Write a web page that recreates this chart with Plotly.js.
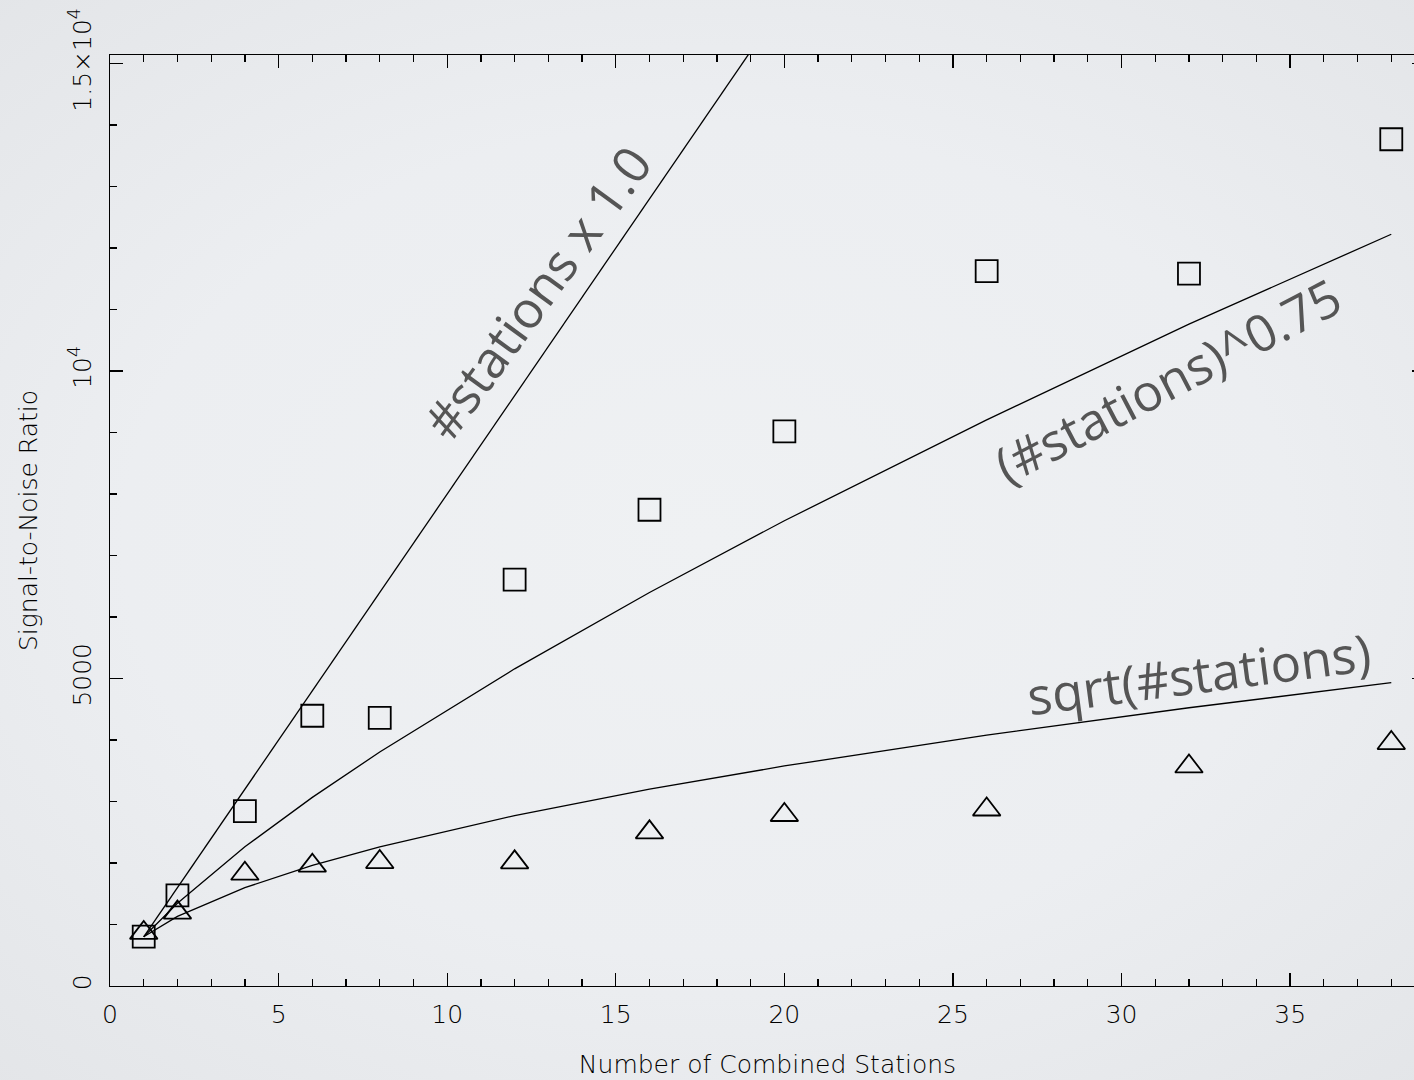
<!DOCTYPE html>
<html>
<head>
<meta charset="utf-8">
<script src="https://cdn.plot.ly/plotly-3.0.1.min.js"></script>
<style>
  html, body { margin: 0; padding: 0; overflow: hidden; }
  body {
    width: 1414px; height: 1080px;
    background: radial-gradient(ellipse 75% 70% at 50% 50%, #eff1f3 0%, #eceef1 55%, #e3e5e8 100%);
  }
  #chart { width: 1440px; height: 1080px; }
</style>
</head>
<body>
<div id="chart"></div>
<script>
// Number of stations combined in each test
const stations = [1, 2, 4, 6, 8, 12, 16, 20, 26, 32, 38];

// Measured signal-to-noise ratios
const snrSquares   = [802, 1474, 2845, 4395, 4360, 6610, 7745, 9020, 11625, 11585, 13770];
const snrTriangles = [864, 1194, 1826, 1957, 2016, 2011, 2499, 2781, 2870, 3570, 3951];

// Reference scaling curves (single-station SNR of about 800)
const refLinear = [800, 1600, 3200, 4800, 6400, 9600, 12800, 16000, 20800, 25600, 30400];
const refPow075 = [800, 1345, 2263, 3067, 3805, 5158, 6400, 7566, 9207, 10764, 12225];
const refSqrt   = [800, 1131, 1600, 1960, 2263, 2771, 3200, 3578, 4079, 4525, 4932];

// Y axis tick labels
const yTickVals = [0, 5000, 10000, 15000];
const yTickText = ['0', '5000', '10<sup>4</sup>', '1.5×10<sup>4</sup>'];

// Curve labels
const curveLabels = ['#stations x 1.0', '(#stations)^0.75', 'sqrt(#stations)'];

const lineStyle = { color: '#000', width: 1.3 };

const traces = [
  { x: stations, y: refLinear, mode: 'lines', line: lineStyle, hoverinfo: 'skip' },
  { x: stations, y: refPow075, mode: 'lines', line: lineStyle, hoverinfo: 'skip' },
  { x: stations, y: refSqrt,   mode: 'lines', line: lineStyle, hoverinfo: 'skip' },
  {
    x: stations, y: snrSquares, mode: 'markers',
    marker: { symbol: 'square-open', size: 22, color: '#000', line: { width: 1.8, color: '#000' } }
  },
  {
    x: stations, y: snrTriangles, mode: 'markers',
    marker: { symbol: 'triangle-up-open', size: 24, color: '#000', line: { width: 1.8, color: '#000' } }
  }
];

const tickFont = { family: 'DejaVu Sans', size: 25, color: '#000', weight: 200 };
const labelFont = { family: 'Open Sans', size: 51, color: '#555555' };

const layout = {
  width: 1440,
  height: 1080,
  margin: { l: 110, r: 14.5, t: 55, b: 94.4 },
  paper_bgcolor: 'rgba(0,0,0,0)',
  plot_bgcolor: 'rgba(0,0,0,0)',
  showlegend: false,
  xaxis: {
    range: [0, 39],
    tick0: 0, dtick: 5,
    ticks: 'inside', ticklen: 13, tickwidth: 1.3, tickcolor: '#000',
    minor: { dtick: 1, ticks: 'inside', ticklen: 7, tickwidth: 1.3, tickcolor: '#000' },
    showline: true, linecolor: '#000', linewidth: 1.3, mirror: 'ticks',
    showgrid: false, zeroline: false,
    tickfont: tickFont,
    ticklabelstandoff: 6,
    title: { text: 'Number of Combined Stations', font: tickFont, standoff: 27 }
  },
  yaxis: {
    range: [0, 15140],
    tickmode: 'array', tickvals: yTickVals, ticktext: yTickText,
    tickangle: -90,
    ticks: 'inside', ticklen: 13, tickwidth: 1.3, tickcolor: '#000',
    minor: { dtick: 1000, tick0: 0, ticks: 'inside', ticklen: 7, tickwidth: 1.3, tickcolor: '#000' },
    showline: true, linecolor: '#000', linewidth: 1.3, mirror: 'ticks',
    showgrid: false, zeroline: false,
    tickfont: tickFont,
    ticklabelstandoff: 8,
    title: { text: 'Signal-to-Noise Ratio', font: tickFont, standoff: 19 }
  },
  annotations: [
    { x: 12.65, y: 11280, xref: 'x', yref: 'y', text: curveLabels[0], showarrow: false,
      textangle: -54, font: labelFont },
    { x: 31.35, y: 9850, xref: 'x', yref: 'y', text: curveLabels[1], showarrow: false,
      textangle: -27.5, font: labelFont },
    { x: 32.3, y: 5090, xref: 'x', yref: 'y', text: curveLabels[2], showarrow: false,
      textangle: -7.5, font: labelFont }
  ]
};

Plotly.newPlot('chart', traces, layout, { displayModeBar: false, staticPlot: true });
</script>
</body>
</html>
